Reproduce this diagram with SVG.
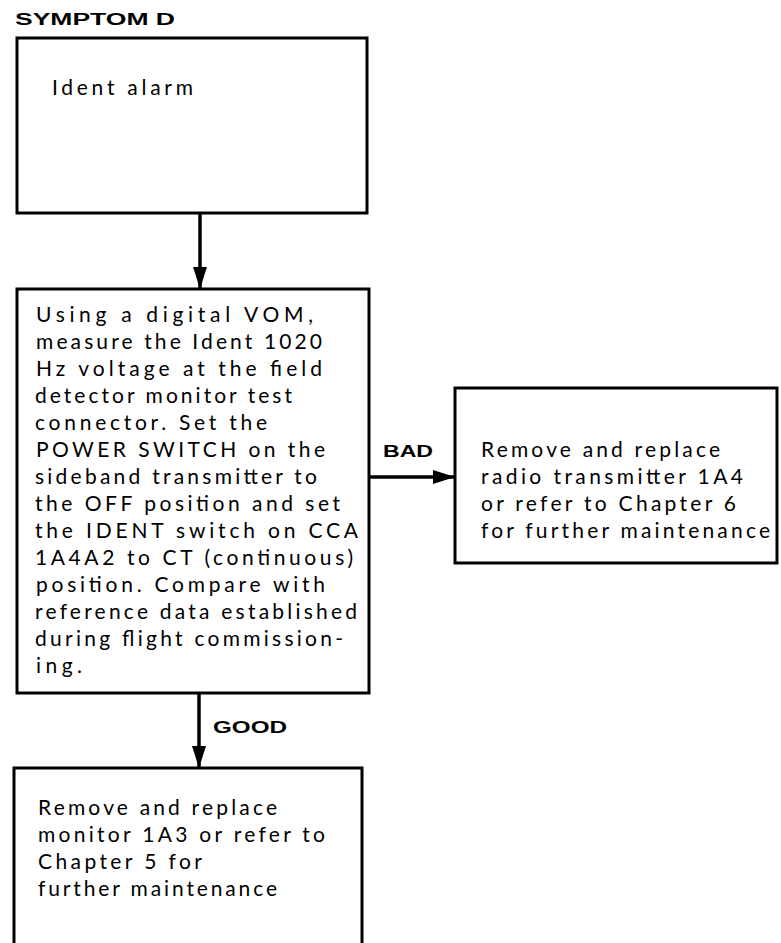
<svg xmlns="http://www.w3.org/2000/svg" width="781" height="943" viewBox="0 0 781 943">
<defs>
<style>
.box{fill:none;stroke:#000;stroke-width:3}
.conn{fill:none;stroke:#000;stroke-width:3.5}
.t{font-family:Lato,"Liberation Sans","DejaVu Sans",sans-serif;font-size:21px;fill:#000}
.lbl{font-family:"Liberation Sans",Arial,sans-serif;font-size:16px;font-weight:bold;fill:#000}
</style>
<marker id="ah" viewBox="0 0 22 14" refX="22" refY="7" markerWidth="22" markerHeight="14" markerUnits="userSpaceOnUse" orient="auto">
<path d="M0,0 L22,7 L0,14 Z" fill="#000"/>
</marker>
</defs>
<rect width="781" height="943" fill="#fff"/>
<text x="15" y="25" class="lbl" textLength="160" lengthAdjust="spacingAndGlyphs">SYMPTOM D</text>
<g id="connectors">
<line class="conn" x1="200" y1="213" x2="200" y2="289" marker-end="url(#ah)"/>
<line class="conn" x1="369" y1="477" x2="455" y2="477" marker-end="url(#ah)"/>
<line class="conn" x1="199" y1="693" x2="199" y2="768" marker-end="url(#ah)"/>
<text x="383" y="457" class="lbl" textLength="50" lengthAdjust="spacingAndGlyphs">BAD</text>
<text x="213" y="733" class="lbl" textLength="74" lengthAdjust="spacingAndGlyphs">GOOD</text>
</g>
<g id="n1">
<rect class="box" x="17" y="38" width="350" height="175"/>
<text x="52" y="95" class="t" textLength="141">Ident alarm</text>
</g>
<g id="n2">
<rect class="box" x="17" y="289" width="352" height="404"/>
<text class="t" x="36" y="322" textLength="277">Using a digital VOM,</text>
<text class="t" x="36" y="349" textLength="286">measure the Ident 1020</text>
<text class="t" x="36" y="376" textLength="286">Hz voltage at the field</text>
<text class="t" x="35" y="403" textLength="257">detector monitor test</text>
<text class="t" x="35" y="430" textLength="232">connector. Set the</text>
<text class="t" x="36" y="457" textLength="289">POWER SWITCH on the</text>
<text class="t" x="35" y="484" textLength="282">sideband transmitter to</text>
<text class="t" x="35" y="511" textLength="305">the OFF position and set</text>
<text class="t" x="35" y="538" textLength="323">the IDENT switch on CCA</text>
<text class="t" x="35" y="565" textLength="318">1A4A2 to CT (continuous)</text>
<text class="t" x="36" y="592" textLength="289">position. Compare with</text>
<text class="t" x="35" y="619" textLength="322">reference data established</text>
<text class="t" x="35" y="646" textLength="308">during flight commission-</text>
<text class="t" x="36" y="673" textLength="46">ing.</text>
</g>
<g id="n3">
<rect class="box" x="455" y="388" width="322" height="175"/>
<text class="t" x="481" y="457" textLength="239">Remove and replace</text>
<text class="t" x="481" y="484" textLength="262">radio transmitter 1A4</text>
<text class="t" x="481" y="511" textLength="255">or refer to Chapter 6</text>
<text class="t" x="481" y="538" textLength="289">for further maintenance</text>
</g>
<g id="n4">
<path class="box" d="M14,945 V768 H362 V945"/>
<text class="t" x="38" y="815" textLength="239">Remove and replace</text>
<text class="t" x="38" y="842" textLength="287">monitor 1A3 or refer to</text>
<text class="t" x="38" y="869" textLength="164">Chapter 5 for</text>
<text class="t" x="38" y="896" textLength="239">further maintenance</text>
</g>
</svg>
